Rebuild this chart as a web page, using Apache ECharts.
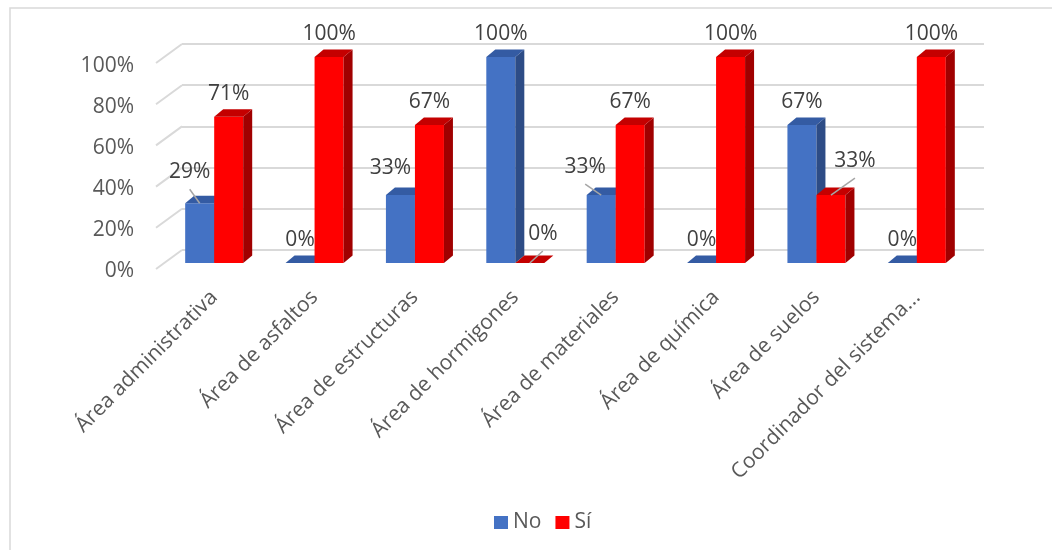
<!DOCTYPE html>
<html><head><meta charset="utf-8">
<script src="https://cdn.jsdelivr.net/npm/echarts@6/dist/echarts.min.js"></script>
<style>html,body{margin:0;padding:0;background:#fff}#chart{width:1052px;height:550px}</style>
</head><body><div id="chart"></div>
<script>
// ---- data ----
const categories = ['Área administrativa', 'Área de asfaltos', 'Área de estructuras', 'Área de hormigones',
  'Área de materiales', 'Área de química', 'Área de suelos', 'Coordinador del sistema...'];
const noValues = [29, 0, 33, 100, 33, 0, 67, 0];
const siValues = [71, 100, 67, 0, 67, 100, 33, 100];
const yTickValues = [0, 20, 40, 60, 80, 100];
const seriesNames = ['No', 'Sí'];

// ---- style / placement ----
const FONT = "'Open Sans', sans-serif";
const DX = 9, DY = 7.5;
const BAR_RATIO = 0.289;
const noLabelShift = [[-10,-8,true],[0,0,false],[-10,-4,false],[0,0,false],[-16,-5,true],[0,0,false],[0,0,false],[0,0,false]];
const siLabelShift = [[0,0,false],[0,0,false],[0,0,false],[13,-6,true],[0,0,false],[0,0,false],[24,-11,true],[0,0,false]];
const noFaces = {front:'#4472C4', side:'#2D4C86', top:'#345BA3'};
const siFaces = {front:'#FF0000', side:'#A00000', top:'#C40000'};

function barRenderer(sideIdx, faces, shifts) {
  return function (params, api) {
    const ci = api.value(0), v = api.value(1);
    const base = api.coord([ci, 0]);
    const top = api.coord([ci, v]);
    const band = api.size([1, 0])[0];
    const w = band * BAR_RATIO;
    const x0 = sideIdx === 0 ? base[0] - w : base[0];
    const x1 = x0 + w;
    const yb = base[1], yt = top[1];
    const children = [];
    if (yb - yt > 0.5) {
      children.push({type:'rect', shape:{x:x0, y:yt, width:w, height:yb-yt}, style:{fill:faces.front}});
      children.push({type:'polygon', shape:{points:[[x1,yt],[x1+DX,yt-DY],[x1+DX,yb-DY],[x1,yb]]}, style:{fill:faces.side}});
    }
    children.push({type:'polygon', shape:{points:[[x0,yt],[x1,yt],[x1+DX,yt-DY],[x0+DX,yt-DY]]}, style:{fill:faces.top}});
    const s = shifts[params.dataIndex];
    const cx = (x0 + x1) / 2;
    const lx = cx + s[0], ly = yt - 23 + s[1];
    if (s[2]) children.push({type:'line', shape:{x1:lx, y1:ly+17, x2:cx, y2:yt}, style:{stroke:'#a6a6a6', lineWidth:1.5}});
    children.push({type:'text', style:{text: v + '%', x:lx, y:ly, align:'center', verticalAlign:'middle',
      fontSize:21, fontFamily:FONT, fill:'#404040'}});
    return {type:'group', children};
  };
}

const chart = echarts.init(document.getElementById('chart'), null, {renderer:'canvas'});
chart.setOption({
  animation: false,
  backgroundColor: '#ffffff',
  textStyle: {fontFamily: FONT},
  graphic: [{type:'rect', shape:{x:10, y:8, width:1100, height:600}, style:{fill:'none', stroke:'#d9d9d9', lineWidth:1.5}, silent:true}],
  legend: {
    data: seriesNames, left: 489, top: 507, itemWidth: 14, itemHeight: 13, itemGap: 14, icon: 'rect',
    textStyle: {fontSize: 21, color: '#595959', fontFamily: FONT}
  },
  grid: [
    {left: 182, right: 68, top: 44, height: 206},
    {left: 164, right: 85, top: 57, height: 206},
    {left: 156, right: 85, top: 66, height: 205}
  ],
  xAxis: [
    {gridIndex:0, type:'value', min:0, max:1, show:false},
    {gridIndex:1, type:'category', data:categories, boundaryGap:true,
      axisLine:{show:false}, axisTick:{show:false},
      axisLabel:{interval:0, rotate:45, margin:31, fontSize:21, color:'#595959', fontFamily:FONT}},
    {gridIndex:2, type:'value', min:0, max:1, show:false}
  ],
  yAxis: [
    {gridIndex:0, type:'value', min:0, max:100, interval:20, axisLabel:{show:false}, axisLine:{show:false}, axisTick:{show:false},
      splitLine:{show:true, lineStyle:{color:'#d9d9d9', width:2}}},
    {gridIndex:1, type:'value', min:0, max:100, interval:20, show:false},
    {gridIndex:2, type:'value', min:0, max:100, interval:20, axisLine:{show:false}, axisTick:{show:false}, splitLine:{show:false},
      axisLabel:{formatter:'{value}%', margin:22, fontSize:21, color:'#595959', fontFamily:FONT}}
  ],
  series: [
    {type:'custom', xAxisIndex:0, yAxisIndex:0, silent:true, z:1,
      data: yTickValues.map(v => [0, v]),
      renderItem: function (params, api) {
        const p = api.coord([0, api.value(1)]);
        return {type:'line', shape:{x1:p[0]-26, y1:p[1]+19, x2:p[0], y2:p[1]}, style:{stroke:'#d9d9d9', lineWidth:2}};
      }},
    {name:seriesNames[0], type:'custom', xAxisIndex:1, yAxisIndex:1, z:3, itemStyle:{color:noFaces.front},
      encode:{x:0, y:1}, data: noValues.map((v, i) => [i, v]), renderItem: barRenderer(0, noFaces, noLabelShift)},
    {name:seriesNames[1], type:'custom', xAxisIndex:1, yAxisIndex:1, z:4, itemStyle:{color:siFaces.front},
      encode:{x:0, y:1}, data: siValues.map((v, i) => [i, v]), renderItem: barRenderer(1, siFaces, siLabelShift)}
  ]
});
</script></body></html>
